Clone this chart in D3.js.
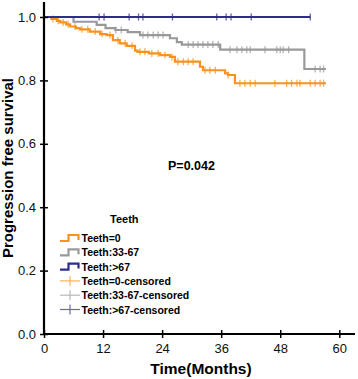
<!DOCTYPE html>
<html>
<head>
<meta charset="utf-8">
<script src="https://cdn.jsdelivr.net/npm/d3@7"></script>
<style>
  body { margin: 0; background: #fff; }
  svg { font-family: "Liberation Sans", Arial, sans-serif; }
</style>
</head>
<body>
<svg id="km-chart" width="358" height="379"></svg>
<script>
// step data (time in months, survival)
var orangeTimes = [0, 1.5, 2.6, 3.3, 4.5, 5.3, 6.5, 7.3, 9.3, 11.4, 12.7, 14.0, 15.4, 16.8, 18.5, 19.0, 21.3, 23.6, 25.6, 26.6, 31.7, 32.3, 36.8, 37.4, 38.8];
var orangeSurv  = [1.0, 0.994, 0.988, 0.983, 0.977, 0.970, 0.965, 0.961, 0.954, 0.946, 0.943, 0.927, 0.917, 0.909, 0.894, 0.890, 0.885, 0.880, 0.874, 0.859, 0.843, 0.832, 0.822, 0.817, 0.791];
var orangeEnd = 57.3;
var orangeCensor = [1.8, 2.9, 3.9, 4.9, 6.3, 7.7, 8.9, 10.4, 11.8, 13.4, 15.0, 16.5, 17.9, 19.5, 20.5, 21.9, 23.2, 24.6, 26.0, 27.2, 28.3, 29.3, 30.3, 32.7, 33.7, 34.8, 37.4, 39.8, 40.8, 41.9, 42.9, 46.9, 49.3, 50.3, 51.4, 52.0, 54.1, 55.1, 56.1, 56.8];

var grayTimes = [0, 6.0, 10.7, 12.5, 14.5, 17.0, 19.5, 25.6, 27.0, 28.0, 35.8, 52.9];
var graySurv  = [1.0, 0.985, 0.975, 0.965, 0.959, 0.952, 0.943, 0.933, 0.921, 0.913, 0.897, 0.836];
var grayEnd = 57.3;
var grayCensor = [14.6, 15.7, 20.1, 21.1, 22.2, 23.2, 24.2, 29.3, 30.3, 31.3, 32.3, 33.3, 34.3, 35.4, 37.8, 39.2, 40.2, 41.2, 41.9, 44.9, 47.3, 48.0, 48.6, 49.7, 55.1, 56.1, 56.8];

var blueTimes = [0];
var blueSurv  = [1.0];
var blueEnd = 54.1;
var blueCensor = [11.2, 12.2, 17.3, 19.2, 20.1, 26.1, 35.1, 37.0, 38.0, 42.1, 54.1];

var xTicks = [0, 12, 24, 36, 48, 60];
var yTicks = [0, 0.2, 0.4, 0.6, 0.8, 1.0];

var groupNames = ["Teeth=0", "Teeth:33-67", "Teeth:>67"];
var groupColors = ["#f7931e", "#999999", "#2e2e8a"];
var censorColors = ["#f9b25a", "#b8b8b8", "#6a6aa8"];

var svg = d3.select("#km-chart");

// set the ranges
var x = d3.scaleLinear().domain([0, 60]).range([44, 339.3]);
var y = d3.scaleLinear().domain([0, 1]).range([334, 17]);

var groups = [
  {times: orangeTimes, surv: orangeSurv, end: orangeEnd, censor: orangeCensor},
  {times: grayTimes, surv: graySurv, end: grayEnd, censor: grayCensor},
  {times: blueTimes, surv: blueSurv, end: blueEnd, censor: blueCensor}
];

function survAt(g, t) {
  var s = g.surv[0];
  for (var i = 0; i < g.times.length; i++) {
    if (g.times[i] <= t) s = g.surv[i];
  }
  return s;
}

var stepLine = d3.line()
    .x(function(d) { return x(d[0]); })
    .y(function(d) { return y(d[1]); })
    .curve(d3.curveStepAfter);

// draw curves, back to front
[1, 0, 2].forEach(function(gi) {
  var g = groups[gi];
  var pts = g.times.map(function(t, i) { return [t, g.surv[i]]; });
  pts.push([g.end, g.surv[g.surv.length - 1]]);

  svg.append("path")
      .datum(pts)
      .attr("fill", "none")
      .attr("stroke", groupColors[gi])
      .attr("stroke-width", 2.2)
      .attr("d", stepLine);

  // censor marks
  svg.append("g").selectAll("line")
      .data(g.censor)
    .enter().append("line")
      .attr("x1", function(d) { return x(d); })
      .attr("x2", function(d) { return x(d); })
      .attr("y1", function(d) { return y(survAt(g, d)) - 3.5; })
      .attr("y2", function(d) { return y(survAt(g, d)) + 3.5; })
      .attr("stroke", groupColors[gi])
      .attr("stroke-opacity", 0.75)
      .attr("stroke-width", 1.3);
});

// axes
var yAxis = svg.append("g")
    .attr("transform", "translate(44,0)")
    .call(d3.axisLeft(y).tickValues(yTicks).tickFormat(d3.format(".1f")).tickSizeOuter(0).tickSizeInner(4).tickPadding(4));
yAxis.select(".domain").remove();
yAxis.selectAll(".tick line").attr("x1", 4).attr("stroke-width", 1.5);
yAxis.selectAll("text").attr("font-size", 13).attr("fill", "#111");

var xAxis = svg.append("g")
    .attr("transform", "translate(0,334)")
    .call(d3.axisBottom(x).tickValues(xTicks).tickSizeOuter(0).tickSizeInner(4).tickPadding(6));
xAxis.select(".domain").remove();
xAxis.selectAll(".tick line").attr("y1", -4).attr("stroke-width", 1.5);
xAxis.selectAll("text").attr("font-size", 13).attr("fill", "#111");

svg.append("line")
    .attr("x1", 44).attr("x2", 44)
    .attr("y1", 2).attr("y2", 335)
    .attr("stroke", "#000").attr("stroke-width", 2.2);
svg.append("line")
    .attr("x1", 43).attr("x2", 355)
    .attr("y1", 334).attr("y2", 334)
    .attr("stroke", "#000").attr("stroke-width", 2.2);

// axis labels
svg.append("text")
    .attr("transform", "rotate(-90)")
    .attr("x", -168)
    .attr("y", 13)
    .attr("text-anchor", "middle")
    .attr("font-size", 15)
    .attr("font-weight", "bold")
    .text("Progression free survival");

svg.append("text")
    .attr("x", 201)
    .attr("y", 374)
    .attr("text-anchor", "middle")
    .attr("font-size", 15.5)
    .attr("font-weight", "bold")
    .text("Time(Months)");

svg.append("text")
    .attr("x", 168)
    .attr("y", 170)
    .attr("font-size", 12.5)
    .attr("font-weight", "bold")
    .text("P=0.042");

// legend
var legend = svg.append("g");
svg.append("text")
    .attr("x", 110)
    .attr("y", 223)
    .attr("font-size", 11)
    .attr("font-weight", "bold")
    .text("Teeth");

var rowY = 238, rowH = 14.3;
groupNames.forEach(function(name, i) {
  var cy = rowY + i * rowH;
  legend.append("path")
      .attr("d", "M60," + (cy + 3) + "H68.5V" + (cy - 3) + "H78.5V" + (cy + 2))
      .attr("fill", "none")
      .attr("stroke", groupColors[i])
      .attr("stroke-width", 2.2);
  legend.append("text")
      .attr("x", 81.5)
      .attr("y", cy + 4)
      .attr("font-size", 10.5)
      .attr("font-weight", "bold")
      .text(name);
});
groupNames.forEach(function(name, i) {
  var cy = rowY + (i + 3) * rowH;
  legend.append("line")
      .attr("x1", 60).attr("x2", 80)
      .attr("y1", cy).attr("y2", cy)
      .attr("stroke", censorColors[i])
      .attr("stroke-width", 1.2);
  legend.append("line")
      .attr("x1", 70).attr("x2", 70)
      .attr("y1", cy - 5).attr("y2", cy + 5)
      .attr("stroke", censorColors[i])
      .attr("stroke-width", 1.2);
  legend.append("text")
      .attr("x", 81.5)
      .attr("y", cy + 4)
      .attr("font-size", 10.5)
      .attr("font-weight", "bold")
      .text(name + "-censored");
});
</script>
</body>
</html>
